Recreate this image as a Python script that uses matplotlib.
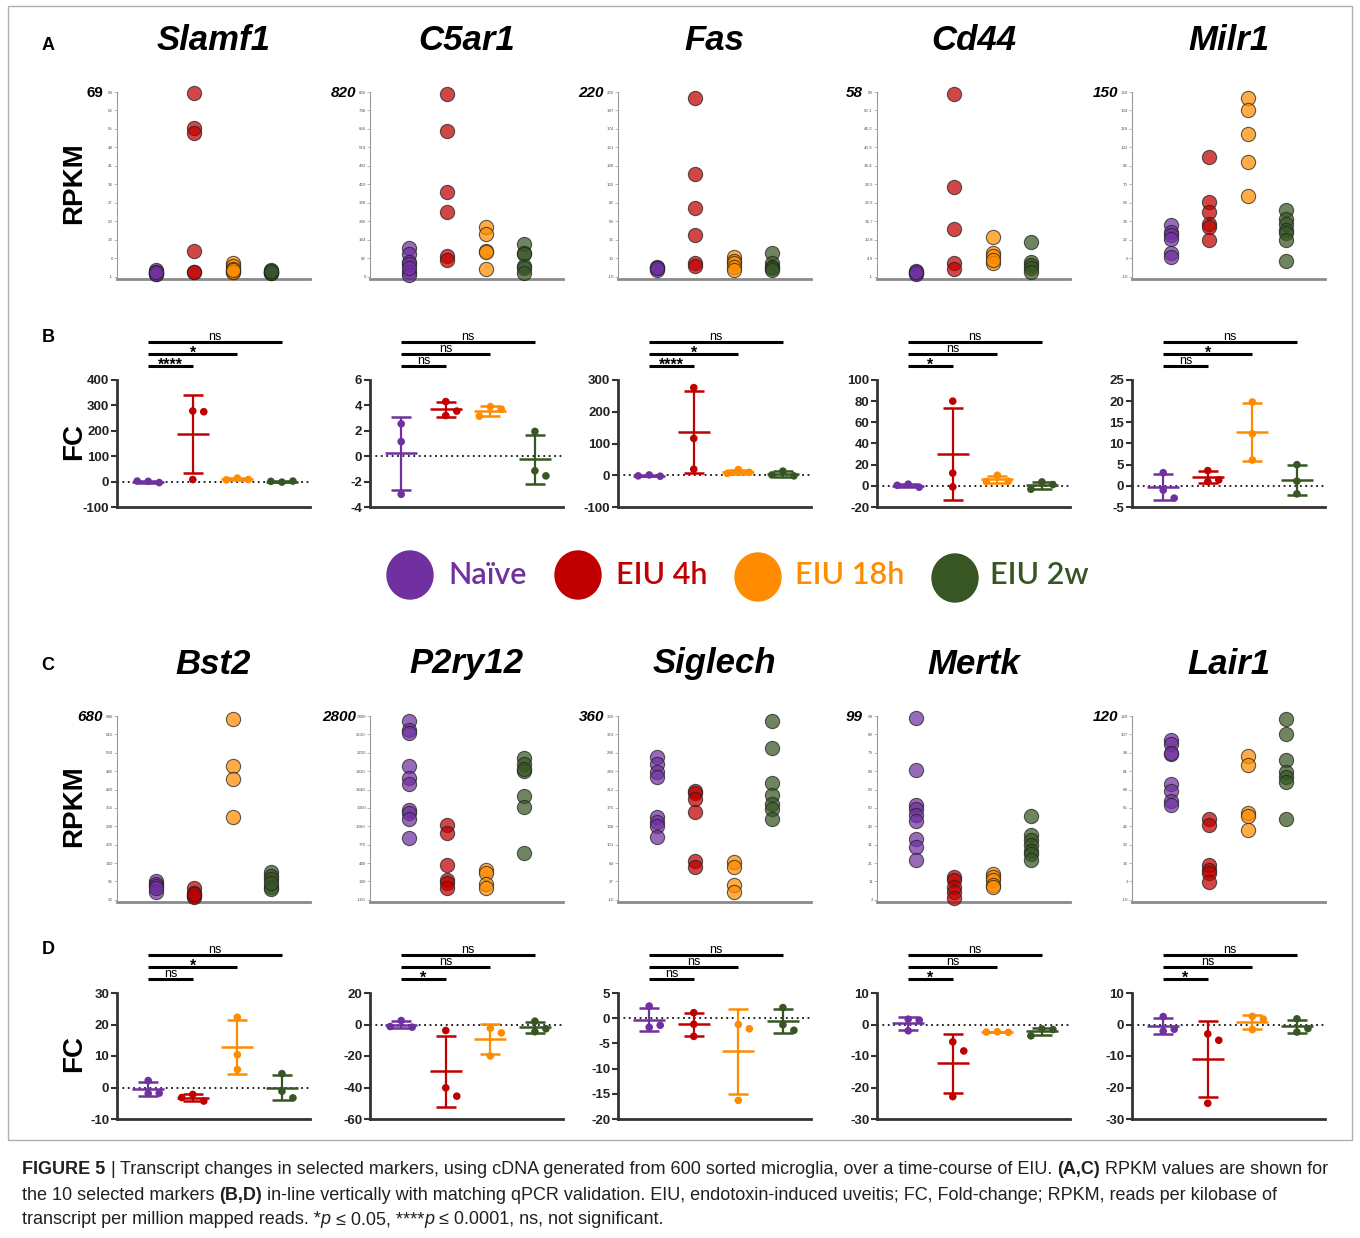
import numpy as np
import matplotlib
matplotlib.use('Agg')
import matplotlib.pyplot as plt
import matplotlib.transforms as mtransforms
from matplotlib.patches import Ellipse, Rectangle
from matplotlib import font_manager

W, H = 1360, 1238

groups = ['Naïve', 'EIU 4h', 'EIU 18h', 'EIU 2w']
colors = ['#7030A0', '#C00000', '#FF8C00', '#375623']

genes_top = ['Slamf1', 'C5ar1', 'Fas', 'Cd44', 'Milr1']
genes_bot = ['Bst2', 'P2ry12', 'Siglech', 'Mertk', 'Lair1']

# RPKM values, one list per group (Naive, 4h, 18h, 2w)
slamf1_rpkm = [[1.5, 1.0, 0.5, 0.2, 0.0, 0.8], [68.5, 55.5, 53.5, 8.7, 0.9, 0.8],
               [4.3, 3.0, 2.0, 1.0, 0.8, 1.5], [1.5, 1.0, 0.5, 0.8, 0.3, 1.2]]
c5ar1_rpkm = [[129, 101, 67, 55, 22, 7, 40], [813, 647, 378, 288, 93, 74],
              [222, 190, 116, 110, 34], [145, 104, 99, 50, 37, 15]]
fas_rpkm = [[2.5, 0.5, -1.5, 1.5], [212, 118, 76, 42, 7, 4],
            [15, 10, 7.5, 2.5, -1.5], [20, 7, 2.5, 0.5, -1.5]]
cd44_rpkm = [[1.0, 0.3, -0.2, 0.6], [57.5, 27.7, 14.1, 3.3, 1.4],
             [11.6, 6.7, 5.6, 3.5, 4.5], [10.2, 3.8, 2.7, 1.7, 0.6]]
milr1_rpkm = [[34.8, 29, 26, 22.4, 10.8, 6.8], [94, 55, 46, 36, 33, 22],
              [145, 134.7, 113.8, 89.5, 60.3], [48, 40, 36, 30.5, 27.6, 22, 3.6]]
bst2_rpkm = [[95, 85, 80, 57, 70], [72.5, 55, 45, 39, 50],
             [670, 502, 458, 322], [130, 115, 105, 77, 69, 90]]
p2ry12_rpkm = [[2720, 2575, 2530, 2005, 1825, 1720, 1310, 1265, 1180, 870],
               [1075, 955, 447, 216, 158, 90], [363, 320, 153, 90],
               [2140, 2047, 1940, 1532, 1363, 637, 1960]]
siglech_rpkm = [[277, 264, 247, 238, 157, 146, 138, 116], [209, 205, 193, 167, 69, 56],
                [66, 56, 19, 5], [350, 295, 225, 200, 183, 173, 153]]
mertk_rpkm = [[98, 70.7, 52, 50, 47, 43.5, 34, 30, 22.8], [14, 12.5, 9, 6, 3],
              [15.4, 13.8, 12.2, 10, 9], [46, 36, 33.3, 31, 28, 26, 22.8]]
lair1_rpkm = [[103, 100, 93, 93.5, 71.6, 67, 60, 57], [47, 42.6, 14.3, 11, 8.9, 2.5],
              [92, 85.5, 51.3, 49, 39.5], [118, 107.5, 88.6, 80.4, 77, 73, 47.3]]

# qPCR fold change, three replicates per group
slamf1_fc = [[1, -4, 2], [278, 275, 8], [14, 8, 7], [-2, 2, 1]]
c5ar1_fc = [[2.55, 1.15, -3.0], [4.3, 3.55, 3.2], [3.9, 3.7, 3.15], [1.95, -1.15, -1.55]]
fas_fc = [[1, -3, -2], [276, 116, 19], [18, 9, 6], [13, -2, 1]]
cd44_fc = [[1.6, -1.3, 0.5], [80, 12, -1], [10, 4.3, 4], [3.7, 1.2, -3.2]]
milr1_fc = [[3.1, -1.0, -2.9], [3.6, 1.4, 1.0], [19.8, 12.3, 6.1], [5.0, 1.1, -1.9]]
bst2_fc = [[2.2, -1.9, -1.8], [-2.2, -4.3, -3.2], [22.3, 10.4, 5.7], [4.4, -1.2, -3.3]]
p2ry12_fc = [[2.5, -1.7, -1.3], [-3.8, -40.2, -45.5], [-2.3, -5.3, -20], [2.1, -2.7, -4.6]]
siglech_fc = [[2.4, -1.8, -1.4], [1.1, -1.2, -3.6], [-1.25, -2.1, -16.3], [2.1, -1.3, -2.4]]
mertk_fc = [[1.7, 1.4, -2.0], [-5.5, -8.4, -22.9], [-2.3, -2.5, -2.4], [-1.4, -1.6, -3.6]]
lair1_fc = [[2.5, -2.1, -1.5], [-3.0, -5.0, -25.0], [2.6, 1.7, -1.6], [1.8, -1.3, -2.4]]

rpkm_top = [slamf1_rpkm, c5ar1_rpkm, fas_rpkm, cd44_rpkm, milr1_rpkm]
rpkm_bot = [bst2_rpkm, p2ry12_rpkm, siglech_rpkm, mertk_rpkm, lair1_rpkm]
fc_top = [slamf1_fc, c5ar1_fc, fas_fc, cd44_fc, milr1_fc]
fc_bot = [bst2_fc, p2ry12_fc, siglech_fc, mertk_fc, lair1_fc]

# RPKM axis range (min, max) and decimals for the tiny tick labels
rpkm_lim_top = [(-1, 69), (0, 820), (-10, 220), (-1, 58), (-10, 150)]
rpkm_lim_bot = [(30, 680), (-100, 2800), (-10, 360), (2, 99), (-10, 120)]
rpkm_dec_top = [0, 0, 0, 1, 0]
rpkm_dec_bot = [0, 0, 0, 0, 0]
max_italic_top = [False, True, True, True, True]

# FC axis (min, max, step)
fc_lim_top = [(-100, 400, 100), (-4, 6, 2), (-100, 300, 100), (-20, 100, 20), (-5, 25, 5)]
fc_lim_bot = [(-10, 30, 10), (-60, 20, 20), (-20, 5, 5), (-30, 10, 10), (-30, 10, 10)]

# significance vs Naive: 4h, 18h, 2w
sig_top = [['****', '*', 'ns'], ['ns', 'ns', 'ns'], ['****', '*', 'ns'],
           ['*', 'ns', 'ns'], ['ns', '*', 'ns']]
sig_bot = [['ns', '*', 'ns'], ['*', 'ns', 'ns'], ['ns', 'ns', 'ns'],
           ['*', 'ns', 'ns'], ['*', 'ns', 'ns']]

names = {f.name for f in font_manager.fontManager.ttflist}
narrow = 'Liberation Sans Narrow' if 'Liberation Sans Narrow' in names else 'Liberation Sans'
plt.rcParams['font.family'] = ['Liberation Sans', 'DejaVu Sans']

fig = plt.figure(figsize=(W / 100, H / 100), dpi=100)
fig.patch.set_facecolor('white')

ov = fig.add_axes([0, 0, 1, 1])
ov.set_xlim(0, W)
ov.set_ylim(H, 0)
ov.axis('off')
ov.add_patch(Rectangle((8, 6), 1344, 1134, fill=False, ec='#b0b0b0', lw=1))

lefts = [117, 370, 618, 877, 1132]
AX_W = 193


def px_axes(left, top, width, height):
    return fig.add_axes([left / W, 1 - (top + height) / H, width / W, height / H])


def rpkm_panel(left, top, height, gene, data, lim, dec, italic):
    ax = px_axes(left, top, AX_W, height)
    lo, hi = lim
    ax.set_ylim(lo - 0.012 * (hi - lo), hi)
    ax.set_xlim(0, 5)
    for i, vals in enumerate(data):
        ax.scatter(np.full(len(vals), i + 1), vals, s=105, color=colors[i], alpha=0.72,
                   edgecolors='#222222', linewidths=0.8, clip_on=False, zorder=3)
    ticks = np.linspace(lo, hi, 11)
    ax.set_yticks(ticks)
    if dec:
        ax.set_yticklabels(['%g' % round(t, 1) for t in ticks])
    else:
        ax.set_yticklabels([str(int(t)) for t in ticks])
    ax.set_xticks([])
    for s in ['top', 'right']:
        ax.spines[s].set_visible(False)
    ax.spines['left'].set_color('#9a9a9a')
    ax.spines['left'].set_linewidth(0.8)
    ax.spines['left'].set_bounds(lo, hi)
    ax.spines['bottom'].set_color('#8a8a8a')
    ax.spines['bottom'].set_linewidth(2)
    ax.tick_params(axis='y', length=2, width=0.5, color='#999999', labelsize=3.2,
                   labelcolor='#555555', pad=1)
    ax.set_facecolor('none')
    ov.text(left - 14, top + 1, str(hi), ha='right', va='center', fontsize=11,
            fontweight='bold', fontstyle='italic' if italic else 'normal')
    return ax


def swarm(vals, ppu, step_px=11, thresh=10.5):
    placed = []
    offs = []
    for v in vals:
        for k in [0, 1, -1, 2, -2, 3, -3]:
            dx = k * step_px
            if all((dx - px) ** 2 + ((v - pv) * ppu) ** 2 >= thresh ** 2 for px, pv in placed):
                break
        placed.append((dx, v))
        offs.append(dx)
    return offs


def fc_panel(left, top, height, data, lim, sigs):
    ax = px_axes(left, top, AX_W, height)
    lo, hi, step = lim
    ax.set_ylim(lo, hi)
    x0, x1 = 0.3, 4.63
    ax.set_xlim(x0, x1)
    unit = AX_W / (x1 - x0)
    ppu = height / (hi - lo)
    ax.axhline(0, color='#111111', lw=1.3, ls=(0, (1, 2)), zorder=1)
    for i, vals in enumerate(data):
        x = i + 1
        m = np.mean(vals)
        sd = np.std(vals, ddof=1)
        offs = swarm(vals, ppu)
        ax.scatter([x + o / unit for o in offs], vals, s=30, color=colors[i],
                   edgecolors='none', zorder=3, clip_on=False)
        ax.errorbar(x, m, yerr=sd, color=colors[i], lw=1.6, capsize=7.5,
                    capthick=1.8, fmt='none', zorder=2)
        ax.hlines(m, x - 0.36, x + 0.36, color=colors[i], lw=1.8, zorder=2)
    ax.set_yticks(np.arange(lo, hi + step / 2, step))
    ax.set_yticklabels(['%g' % t for t in np.arange(lo, hi + step / 2, step)],
                       fontweight='bold', family=[narrow, 'DejaVu Sans'])
    ax.set_xticks([])
    for s in ['top', 'right']:
        ax.spines[s].set_visible(False)
    for s in ['left', 'bottom']:
        ax.spines[s].set_color('#333333')
        ax.spines[s].set_linewidth(2)
    ax.tick_params(axis='y', length=4, width=1.5, color='#333333', labelsize=9.5,
                   labelcolor='#222222', pad=1.5)
    ax.set_facecolor('none')
    trans = mtransforms.blended_transform_factory(ax.transData, ax.transAxes)
    for k, lab in enumerate(sigs):
        yb = 1 + (14 + 12 * k) / height
        ax.plot([1, k + 2], [yb, yb], transform=trans, color='black', lw=2.2,
                clip_on=False, solid_capstyle='butt')
        if lab == 'ns':
            ax.text((k + 3) / 2, yb + 2.2 / height, lab, transform=trans, ha='center',
                    va='baseline', fontsize=9, family=[narrow, 'DejaVu Sans'])
        else:
            ax.text((k + 3) / 2, yb - 3.5 / height, lab, transform=trans, ha='center',
                    va='baseline', fontsize=11.5, fontweight='bold',
                    family=[narrow, 'DejaVu Sans'])
    return ax


# rows A-D
for j in range(5):
    rpkm_panel(lefts[j], 92, 187, genes_top[j], rpkm_top[j], rpkm_lim_top[j],
               rpkm_dec_top[j], max_italic_top[j])
    ov.text(lefts[j] + AX_W / 2, 41, genes_top[j], ha='center', va='center',
            fontsize=25, fontweight='bold', fontstyle='italic')
    fc_panel(lefts[j], 380, 127, fc_top[j], fc_lim_top[j], sig_top[j])
    rpkm_panel(lefts[j], 716, 186, genes_bot[j], rpkm_bot[j], rpkm_lim_bot[j],
               rpkm_dec_bot[j], True)
    ov.text(lefts[j] + AX_W / 2, 664, genes_bot[j], ha='center', va='center',
            fontsize=25, fontweight='bold', fontstyle='italic')
    fc_panel(lefts[j], 993, 126, fc_bot[j], fc_lim_bot[j], sig_bot[j])

for lab, y in [('A', 45), ('B', 337), ('C', 665), ('D', 950)]:
    ov.text(48, y, lab, ha='center', va='center', fontsize=13, fontweight='bold')
for lab, y in [('RPKM', 183), ('FC', 442), ('RPKM', 806), ('FC', 1053)]:
    ov.text(74, y, lab, ha='center', va='center', rotation=90, fontsize=20,
            fontweight='bold')

# legend
leg_c = [(410, 575), (578, 575), (758, 577), (955, 578)]
leg_t = [448, 616, 795, 990]
for i in range(4):
    ov.add_patch(Ellipse(leg_c[i], 46, 48, color=colors[i]))
    ov.text(leg_t[i], 575, groups[i], ha='left', va='center', fontsize=22,
            color=colors[i], fontweight='semibold', family=['Lato', 'DejaVu Sans'])

# caption
renderer = fig.canvas.get_renderer()
cap_lines = [
    [('FIGURE 5', 'bold', True), ('|', 'normal', True),
     ('Transcript changes in selected markers, using cDNA generated from 600 sorted '
      'microglia, over a time-course of EIU.', 'normal', True),
     ('(A,C)', 'bold', True), ('RPKM values are shown for', 'normal', False)],
    [('the 10 selected markers', 'normal', True), ('(B,D)', 'bold', True),
     ('in-line vertically with matching qPCR validation. EIU, endotoxin-induced uveitis; '
      'FC, Fold-change; RPKM, reads per kilobase of', 'normal', False)],
    [('transcript per million mapped reads. *', 'normal', False), ('p', 'italic', True),
     ('≤ 0.05, ****', 'normal', False), ('p', 'italic', True),
     ('≤ 0.0001, ns, not significant.', 'normal', False)],
]


def style_kw(st):
    if st == 'bold':
        return dict(fontweight='bold')
    if st == 'italic':
        return dict(fontstyle='italic')
    return {}


def draw_line(x, y, parts, fs, draw=True):
    t = ov.text(0, 0, 'a a', fontsize=fs, family=[narrow, 'DejaVu Sans'])
    t2 = ov.text(0, 0, 'aa', fontsize=fs, family=[narrow, 'DejaVu Sans'])
    gap = t.get_window_extent(renderer).width - t2.get_window_extent(renderer).width
    t.remove()
    t2.remove()
    for s, st, g in parts:
        tt = ov.text(x, y, s, fontsize=fs, color='#231f20', va='center', ha='left',
                     family=[narrow, 'DejaVu Sans'], **style_kw(st))
        x += tt.get_window_extent(renderer).width + (gap if g else 0)
        if not draw:
            tt.remove()
    return x


end = draw_line(22, 1170, cap_lines[0], 12, draw=False)
cap_fs = 12 * (1330 - 22) / (end - 22)
for k, line in enumerate(cap_lines):
    draw_line(22, 1170 + 25 * k, line, cap_fs)

fig.savefig('out.png', dpi=100, facecolor='white')
